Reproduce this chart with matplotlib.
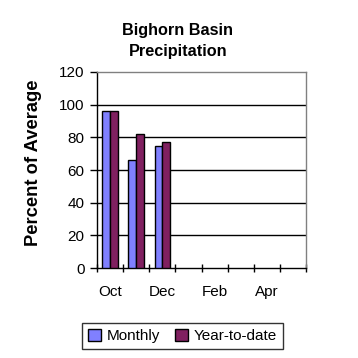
import matplotlib
matplotlib.use("Agg")
import matplotlib.pyplot as plt
import numpy as np

months = ["Oct", "Nov", "Dec", "Jan", "Feb", "Mar", "Apr", "May"]
monthly = [96, 66, 74.5, None, None, None, None, None]
ytd = [96, 82, 77, None, None, None, None, None]
yticks = [0, 20, 40, 60, 80, 100, 120]

plt.rcParams['font.family'] = ['Liberation Sans', 'DejaVu Sans']

fig = plt.figure(figsize=(3.58, 3.58), dpi=100)
ax = fig.add_axes([0.271, 0.251, 0.584, 0.548])

x = np.arange(len(months))
w = 0.3
mv = [v if v is not None else 0 for v in monthly]
yv = [v if v is not None else 0 for v in ytd]
n = sum(v is not None for v in monthly)
ax.bar(x[:n] - w/2, mv[:n], w, color="#8080FF", edgecolor="black", linewidth=1, label="Monthly", zorder=3)
ax.bar(x[:n] + w/2, yv[:n], w, color="#802060", edgecolor="black", linewidth=1, label="Year-to-date", zorder=3)

ax.set_xlim(-0.5, len(months) - 0.5)
ax.set_ylim(0, 120)
ax.set_yticks(yticks)
ax.set_yticklabels([str(t) for t in yticks], fontsize=11)
for t in yticks[1:-1]:
    ax.axhline(t, color="black", linewidth=1, zorder=1)

ax.set_xticks(x[::2])
ax.set_xticklabels(months[::2], fontsize=11)
ax.set_xticks(np.arange(len(months) + 1) - 0.5, minor=True)
ax.tick_params(axis="x", which="major", length=0, pad=12)
ax.tick_params(axis="x", which="minor", length=6, width=1, direction="inout", color="black")
ax.tick_params(axis="y", length=5, width=1, direction="out", pad=4)

for s in ["top", "right"]:
    ax.spines[s].set_color("#808080")
    ax.spines[s].set_linewidth(1)
for s in ["left", "bottom"]:
    ax.spines[s].set_color("black")
    ax.spines[s].set_linewidth(1)

ax.set_ylabel("Percent of Average", fontsize=13.2, fontweight="bold")
ax.yaxis.set_label_coords(-0.265, 0.535)
fig.text(0.497, 0.885, "Bighorn Basin\nPrecipitation", ha="center", va="center",
         fontsize=11.7, fontweight="bold", linespacing=1.45)

leg = fig.legend(loc="center", bbox_to_anchor=(0.51, 0.061), ncol=2, frameon=True,
                 fancybox=False, edgecolor="black", fontsize=11, handlelength=0.8,
                 handleheight=0.8, handletextpad=0.4, columnspacing=1.0, borderpad=0.4)
leg.get_frame().set_linewidth(1)

fig.savefig("out.png", dpi=100)
